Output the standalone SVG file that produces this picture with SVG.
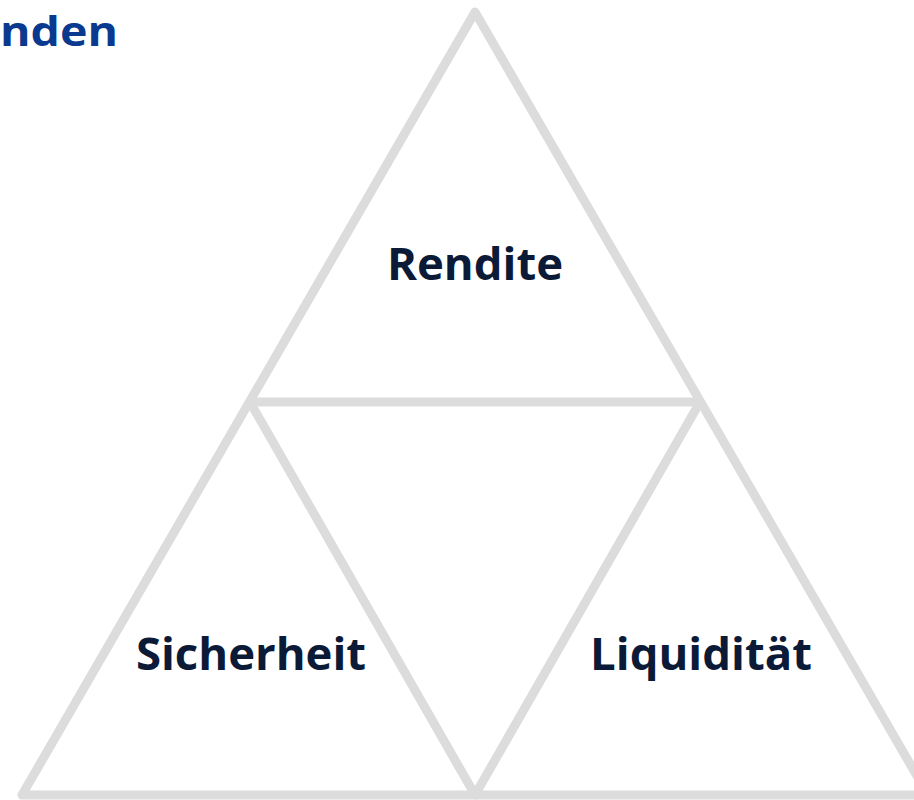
<svg xmlns="http://www.w3.org/2000/svg" width="914" height="800" viewBox="0 0 914 800">
<style>
.ln{stroke:#dcdcdc;stroke-width:9;fill:none;stroke-linejoin:round;stroke-linecap:round}
.lbl{font-family:"Open Sans","Noto Sans",sans-serif;font-weight:700;font-size:45.5px;fill:#0b1a36;text-anchor:middle}
.ttl{font-family:"Open Sans","Noto Sans",sans-serif;font-weight:700;font-size:42px;fill:#0a3a8f}
</style>
<rect width="914" height="800" fill="#ffffff"/>
<text class="ttl" x="0" y="46" textLength="118" lengthAdjust="spacingAndGlyphs">nden</text>
<g id="connectors">
<polygon class="ln" points="475,12 22,795 928,795"/>
<polyline class="ln" points="250,402 700,402"/>
<polyline class="ln" points="250,402 475,795 700,402"/>
</g>
<g id="rendite"><text class="lbl" x="475" y="280">Rendite</text></g>
<g id="sicherheit"><text class="lbl" x="251" y="670">Sicherheit</text></g>
<g id="liquiditaet"><text class="lbl" x="701" y="670">Liquidität</text></g>
</svg>
